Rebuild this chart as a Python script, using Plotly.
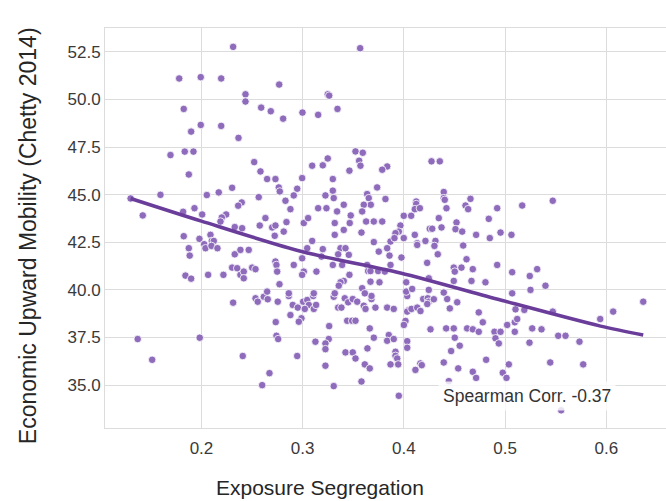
import plotly.graph_objects as go

# County-level exposure segregation vs. economic upward mobility
seg = [
    0.2313, 0.178, 0.1993, 0.2195, 0.2435, 0.2435, 0.1825, 0.1993, 0.2195, 0.1898,
    0.2366, 0.1694, 0.1835, 0.1921, 0.3568, 0.2768, 0.3248, 0.3262, 0.259, 0.2685,
    0.2807, 0.2998, 0.3153, 0.3344, 0.2521, 0.3522, 0.3594, 0.3248, 0.3558, 0.3094,
    0.3199, 0.3571, 0.4273, 0.4355, 0.3835, 0.1875, 0.1595, 0.130, 0.142, 0.1819,
    0.1931, 0.2007, 0.2053, 0.2171, 0.2303, 0.2398, 0.2363, 0.2244, 0.2201, 0.2188,
    0.2329, 0.2402, 0.1825, 0.198, 0.2089, 0.2027, 0.204, 0.2102, 0.2122, 0.2099,
    0.2158, 0.1875, 0.1884, 0.2329, 0.2385, 0.2303, 0.2353, 0.1842, 0.1898, 0.2066,
    0.2217, 0.2385, 0.2418, 0.2418, 0.2313, 0.137, 0.1983, 0.1513, 0.2408, 0.2534,
    0.2556, 0.2616, 0.2655, 0.2754, 0.2863, 0.2902, 0.2952, 0.3005, 0.3045, 0.3061,
    0.3021, 0.311, 0.3133, 0.3104, 0.3307, 0.3416, 0.345, 0.3495, 0.3539, 0.3604,
    0.3621, 0.368, 0.368, 0.3719, 0.3351, 0.3383, 0.2879, 0.2988, 0.2962, 0.2734,
    0.344, 0.3489, 0.3522, 0.3262, 0.3663, 0.3703, 0.2741, 0.2758, 0.3126, 0.3258,
    0.3225, 0.3225, 0.2946, 0.3423, 0.3495, 0.3522, 0.364, 0.3225, 0.3614, 0.3663,
    0.2672, 0.26, 0.3307, 0.3581, 0.3835, 0.39, 0.4033, 0.4049, 0.4033, 0.4075,
    0.4132, 0.4164, 0.4191, 0.4236, 0.4246, 0.4231, 0.4296, 0.4428, 0.4454, 0.4527,
    0.474, 0.478, 0.4016, 0.4, 0.4263, 0.4418, 0.4493, 0.4625, 0.4681, 0.474,
    0.4895, 0.4955, 0.5021, 0.5096, 0.5096, 0.512, 0.5103, 0.4905, 0.4938, 0.4503,
    0.4552, 0.3851, 0.3835, 0.39, 0.4033, 0.4033, 0.3917, 0.3917, 0.3934, 0.3868,
    0.3944, 0.4163, 0.4177, 0.4114, 0.4467, 0.4394, 0.4537, 0.4813, 0.4681, 0.4714,
    0.5037, 0.4977, 0.5014, 0.4444, 0.395, 0.519, 0.5471, 0.5268, 0.536, 0.5241,
    0.5525, 0.5597, 0.5735, 0.5446, 0.5772, 0.594, 0.6068, 0.6365, 0.5554, 0.5471,
    0.5317, 0.5244, 0.5399, 0.5251, 0.4394, 0.4394, 0.4404, 0.4658, 0.4122, 0.4122,
    0.4108, 0.4158, 0.3818, 0.4421, 0.4609, 0.4635, 0.4922, 0.5169, 0.3999, 0.4072,
    0.4345, 0.4839, 0.3966, 0.395, 0.3917, 0.3868, 0.3907, 0.3999, 0.4256, 0.428,
    0.4372, 0.452, 0.451, 0.4576, 0.4714, 0.4849, 0.4955, 0.5063, 0.4108, 0.4132,
    0.4132, 0.4213, 0.4312, 0.4302, 0.4586, 0.3835, 0.3858, 0.3868, 0.3976, 0.4335,
    0.4619, 0.423, 0.4493, 0.4503, 0.4569, 0.4681, 0.4922, 0.507, 0.4023, 0.4023,
    0.4082, 0.4246, 0.4246, 0.4394, 0.4493, 0.4668, 0.4806, 0.507, 0.2583, 0.2649,
    0.2731, 0.2764, 0.2774, 0.2946, 0.2912, 0.2995, 0.3462, 0.3298, 0.3298, 0.3307,
    0.3225, 0.2566, 0.283, 0.2879, 0.3153, 0.3235, 0.3406, 0.3637, 0.3736, 0.3653,
    0.3673, 0.3604, 0.3786, 0.2632, 0.2576, 0.2699, 0.2731, 0.2724, 0.2813, 0.284,
    0.3011, 0.3054, 0.3317, 0.334, 0.3475, 0.3465, 0.3406, 0.3588, 0.3627, 0.3703,
    0.3786, 0.3317, 0.3581, 0.3703, 0.3094, 0.2467, 0.3045, 0.3199, 0.3374, 0.3423,
    0.3351, 0.3456, 0.3752, 0.3186, 0.2995, 0.2731, 0.2741, 0.2748, 0.2912, 0.2501,
    0.2534, 0.3011, 0.2995, 0.3136, 0.3298, 0.339, 0.3462, 0.3637, 0.3647, 0.367,
    0.3746, 0.3812, 0.367, 0.3759, 0.3406, 0.3374, 0.3357, 0.2771, 0.2649, 0.2863,
    0.311, 0.3317, 0.3588, 0.3614,
]
mobility = [
    52.76, 51.10, 51.17, 51.10, 50.27, 49.89, 49.50, 48.66, 48.61, 48.31,
    47.98, 47.08, 47.26, 47.26, 52.69, 50.78, 50.27, 50.20, 49.57, 49.38,
    48.99, 49.31, 49.19, 49.50, 46.71, 47.27, 47.20, 46.90, 46.78, 46.52,
    46.54, 46.52, 46.75, 46.75, 46.48, 46.06, 44.99, 44.80, 43.91, 44.10,
    44.29, 43.96, 44.98, 45.12, 45.36, 44.59, 44.42, 43.96, 43.80, 43.59,
    43.30, 43.24, 42.82, 42.68, 42.89, 42.40, 42.19, 42.57, 42.57, 42.31,
    42.19, 42.19, 41.80, 41.87, 42.10, 41.17, 41.14, 40.75, 40.59, 40.79,
    40.79, 40.79, 40.96, 40.61, 39.33, 37.42, 37.49, 36.33, 36.53, 39.56,
    39.38, 39.64, 39.51, 39.38, 39.68, 39.21, 39.07, 39.38, 39.47, 39.21,
    39.00, 39.00, 39.21, 39.68, 39.64, 39.56, 39.35, 39.52, 39.38, 39.17,
    39.00, 39.52, 39.68, 39.07, 39.07, 39.07, 38.68, 38.51, 38.33, 38.31,
    38.38, 38.38, 38.38, 38.10, 37.98, 37.49, 37.59, 37.42, 37.28, 37.42,
    37.19, 36.89, 36.53, 36.72, 36.72, 36.40, 36.93, 36.02, 36.09, 35.88,
    35.63, 35.00, 34.95, 35.19, 39.07, 39.00, 39.68, 38.95, 38.86, 39.00,
    39.07, 38.89, 39.52, 39.56, 39.38, 39.26, 39.51, 39.52, 39.03, 39.35,
    38.82, 38.30, 38.37, 38.16, 37.93, 37.98, 37.98, 37.98, 37.93, 37.80,
    37.80, 37.80, 38.16, 37.80, 38.30, 38.47, 38.98, 37.46, 37.19, 37.49,
    37.07, 37.63, 37.33, 37.42, 37.31, 36.96, 36.75, 36.54, 36.40, 36.09,
    36.09, 36.14, 36.05, 35.80, 36.79, 36.19, 35.88, 36.33, 35.70, 35.38,
    36.09, 35.65, 35.38, 35.21, 34.44, 38.95, 38.86, 37.98, 37.93, 37.23,
    37.59, 37.59, 37.28, 36.19, 36.09, 38.47, 38.86, 39.38, 33.68, 44.68,
    41.09, 40.73, 40.22, 40.00, 45.14, 44.82, 44.73, 44.78, 44.64, 44.51,
    44.24, 44.29, 44.77, 44.29, 44.43, 44.24, 44.29, 44.43, 43.89, 43.89,
    43.77, 43.73, 43.38, 43.06, 42.98, 42.54, 42.72, 42.72, 43.21, 43.21,
    43.28, 43.54, 43.19, 43.06, 42.89, 42.72, 43.01, 42.89, 42.89, 42.45,
    42.36, 42.57, 42.57, 42.31, 42.33, 42.19, 41.80, 41.31, 41.70, 41.87,
    41.61, 41.42, 41.17, 40.96, 41.17, 41.09, 41.31, 40.93, 40.40, 39.91,
    40.05, 40.61, 40.00, 39.86, 40.47, 40.47, 40.40, 39.82, 46.22, 45.82,
    45.82, 45.38, 45.17, 45.31, 44.96, 45.87, 46.26, 45.82, 45.21, 44.82,
    44.96, 44.87, 44.68, 44.24, 44.29, 44.29, 44.47, 45.03, 45.38, 44.82,
    44.47, 44.47, 46.31, 43.77, 43.38, 43.28, 43.38, 42.84, 43.06, 43.56,
    43.51, 43.77, 43.51, 44.12, 43.91, 43.51, 43.15, 44.12, 43.59, 43.59,
    43.59, 42.89, 43.01, 42.51, 42.57, 42.10, 42.19, 42.14, 42.19, 42.19,
    41.87, 41.84, 42.01, 41.75, 41.66, 41.49, 41.31, 40.96, 41.31, 41.17,
    41.09, 40.96, 40.79, 40.96, 41.31, 41.31, 40.79, 41.31, 40.99, 40.99,
    40.99, 40.96, 40.43, 40.40, 40.47, 40.40, 40.22, 40.30, 39.91, 39.82,
    39.82, 39.82, 40.09, 39.82,
]

# Smoothed trend through the scatter
trend_x = [0.130, 0.200, 0.300, 0.3966, 0.4955, 0.5943, 0.6365]
trend_y = [44.80, 43.61, 42.00, 40.89, 39.47, 38.10, 37.63]

spearman = -0.37

x_ticks = [0.2, 0.3, 0.4, 0.5, 0.6]
y_ticks = [35.0, 37.5, 40.0, 42.5, 45.0, 47.5, 50.0, 52.5]

point_color = "#8e6bbb"
line_color = "#6a3d9a"
grid_color = "#dcdcdc"
font_family = "Liberation Sans, Arial, sans-serif"

fig = go.Figure()
fig.add_trace(go.Scatter(
    x=seg, y=mobility, mode="markers",
    marker=dict(size=7.5, color=point_color, line=dict(color="white", width=0.8)),
    hoverinfo="x+y", showlegend=False,
))
fig.add_trace(go.Scatter(
    x=trend_x, y=trend_y, mode="lines", line_shape="spline",
    line=dict(color=line_color, width=3.5, smoothing=0.8),
    hoverinfo="skip", showlegend=False,
))

fig.add_annotation(
    x=0.4335, y=34.42, xref="x", yref="y", xanchor="left", yanchor="middle",
    text=f"Spearman Corr. {spearman:.2f}", showarrow=False,
    font=dict(family=font_family, size=17.5, color="#333333"),
    bgcolor="rgba(255,255,255,0.8)", borderpad=4,
)

# Axis titles placed as paper-anchored labels
fig.add_annotation(
    x=0.383, y=-0.1475, xref="paper", yref="paper",
    xanchor="center", yanchor="middle", showarrow=False,
    text="Exposure Segregation",
    font=dict(family=font_family, size=21, color="#262626"),
)
fig.add_annotation(
    x=-0.137, y=0.48, xref="paper", yref="paper",
    xanchor="center", yanchor="middle", showarrow=False, textangle=-90,
    text="Economic Upward Mobility (Chetty 2014)",
    font=dict(family=font_family, size=23, color="#262626"),
)

axis_common = dict(
    showgrid=True, gridcolor=grid_color, gridwidth=1,
    showline=True, linecolor=grid_color, linewidth=1, mirror=True,
    zeroline=False, ticks="",
    tickfont=dict(family=font_family, size=17, color="#3a3a3a"),
)

fig.update_xaxes(
    range=[0.1047, 0.659], tickvals=x_ticks,
    ticktext=[f"{v:.1f}" for v in x_ticks],
    ticklabelstandoff=5,
    **axis_common,
)
fig.update_yaxes(
    range=[32.75, 53.75], tickvals=y_ticks,
    ticktext=[f"{v:.1f}" for v in y_ticks],
    **axis_common,
)

fig.update_layout(
    width=666, height=501,
    margin=dict(l=105, r=0, t=28, b=73),
    plot_bgcolor="white", paper_bgcolor="white",
)

fig.write_html("out.html")
